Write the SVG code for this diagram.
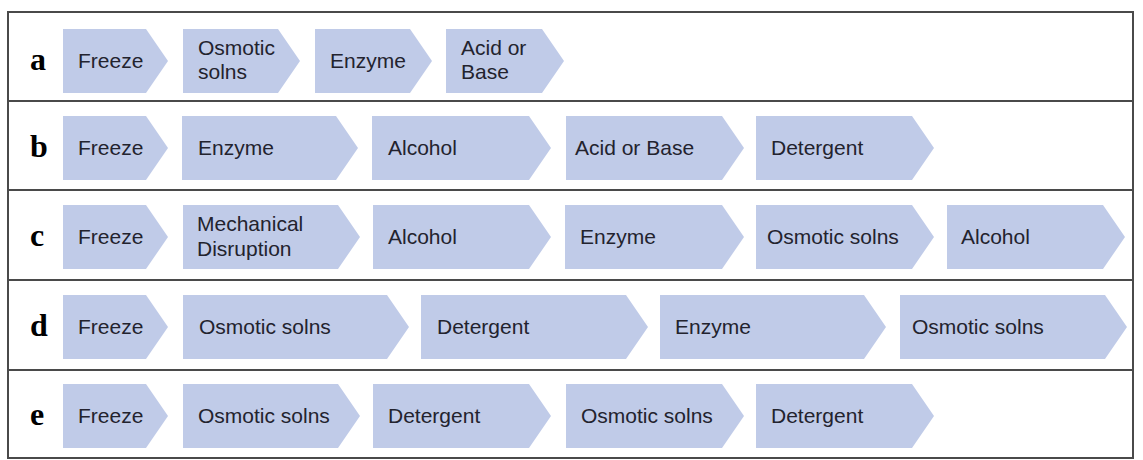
<svg xmlns="http://www.w3.org/2000/svg" width="1143" height="460" viewBox="0 0 1143 460">
<style>
.chev{fill:#c0cbe8;}
.t{font-family:"Liberation Sans",Arial,sans-serif;font-size:21px;fill:#23232e;}
.lbl{font-family:"Liberation Serif","Times New Roman",serif;font-size:32px;font-weight:bold;fill:#000;}
.frame{fill:none;stroke:#4a4a4a;stroke-width:2;}
</style>
<rect width="1143" height="460" fill="#fff"/>
<g id="frame">
<rect class="frame" x="8" y="12" width="1125" height="446"/>
<line class="frame" x1="8" y1="101" x2="1133" y2="101"/>
<line class="frame" x1="8" y1="190" x2="1133" y2="190"/>
<line class="frame" x1="8" y1="280" x2="1133" y2="280"/>
<line class="frame" x1="8" y1="370" x2="1133" y2="370"/>
</g>
<g id="connectors"></g>
<g id="row-a">
<text class="lbl" x="30" y="70">a</text>
<g id="a1"><polygon class="chev" points="63,29 146,29 168,61 146,93 63,93"/><text class="t" x="78" y="68">Freeze</text></g>
<g id="a2"><polygon class="chev" points="183,29 278,29 300,61 278,93 183,93"/><text class="t" x="198" y="55">Osmotic</text><text class="t" x="198" y="79">solns</text></g>
<g id="a3"><polygon class="chev" points="315,29 410,29 432,61 410,93 315,93"/><text class="t" x="330" y="68">Enzyme</text></g>
<g id="a4"><polygon class="chev" points="446,29 542,29 564,61 542,93 446,93"/><text class="t" x="461" y="55">Acid or</text><text class="t" x="461" y="79">Base</text></g>
</g>
<g id="row-b">
<text class="lbl" x="30" y="157">b</text>
<g id="b1"><polygon class="chev" points="63,116 146,116 168,148 146,180 63,180"/><text class="t" x="78" y="155">Freeze</text></g>
<g id="b2"><polygon class="chev" points="182,116 336,116 358,148 336,180 182,180"/><text class="t" x="198" y="155">Enzyme</text></g>
<g id="b3"><polygon class="chev" points="372,116 529,116 551,148 529,180 372,180"/><text class="t" x="388" y="155">Alcohol</text></g>
<g id="b4"><polygon class="chev" points="566,116 722,116 744,148 722,180 566,180"/><text class="t" x="575" y="155">Acid or Base</text></g>
<g id="b5"><polygon class="chev" points="756,116 912,116 934,148 912,180 756,180"/><text class="t" x="771" y="155">Detergent</text></g>
</g>
<g id="row-c">
<text class="lbl" x="30" y="246">c</text>
<g id="c1"><polygon class="chev" points="63,205 146,205 168,237 146,269 63,269"/><text class="t" x="78" y="244">Freeze</text></g>
<g id="c2"><polygon class="chev" points="183,205 338,205 360,237 338,269 183,269"/><text class="t" x="197" y="231">Mechanical</text><text class="t" x="197" y="256">Disruption</text></g>
<g id="c3"><polygon class="chev" points="373,205 529,205 551,237 529,269 373,269"/><text class="t" x="388" y="244">Alcohol</text></g>
<g id="c4"><polygon class="chev" points="565,205 722,205 744,237 722,269 565,269"/><text class="t" x="580" y="244">Enzyme</text></g>
<g id="c5"><polygon class="chev" points="756,205 912,205 934,237 912,269 756,269"/><text class="t" x="767" y="244">Osmotic solns</text></g>
<g id="c6"><polygon class="chev" points="947,205 1103,205 1125,237 1103,269 947,269"/><text class="t" x="961" y="244">Alcohol</text></g>
</g>
<g id="row-d">
<text class="lbl" x="30" y="336">d</text>
<g id="d1"><polygon class="chev" points="63,295 146,295 168,327 146,359 63,359"/><text class="t" x="78" y="334">Freeze</text></g>
<g id="d2"><polygon class="chev" points="183,295 387,295 409,327 387,359 183,359"/><text class="t" x="199" y="334">Osmotic solns</text></g>
<g id="d3"><polygon class="chev" points="421,295 626,295 648,327 626,359 421,359"/><text class="t" x="437" y="334">Detergent</text></g>
<g id="d4"><polygon class="chev" points="660,295 864,295 886,327 864,359 660,359"/><text class="t" x="675" y="334">Enzyme</text></g>
<g id="d5"><polygon class="chev" points="900,295 1105,295 1127,327 1105,359 900,359"/><text class="t" x="912" y="334">Osmotic solns</text></g>
</g>
<g id="row-e">
<text class="lbl" x="30" y="425">e</text>
<g id="e1"><polygon class="chev" points="63,384 146,384 168,416 146,448 63,448"/><text class="t" x="78" y="423">Freeze</text></g>
<g id="e2"><polygon class="chev" points="183,384 338,384 360,416 338,448 183,448"/><text class="t" x="198" y="423">Osmotic solns</text></g>
<g id="e3"><polygon class="chev" points="373,384 529,384 551,416 529,448 373,448"/><text class="t" x="388" y="423">Detergent</text></g>
<g id="e4"><polygon class="chev" points="566,384 722,384 744,416 722,448 566,448"/><text class="t" x="581" y="423">Osmotic solns</text></g>
<g id="e5"><polygon class="chev" points="756,384 912,384 934,416 912,448 756,448"/><text class="t" x="771" y="423">Detergent</text></g>
</g>
</svg>
